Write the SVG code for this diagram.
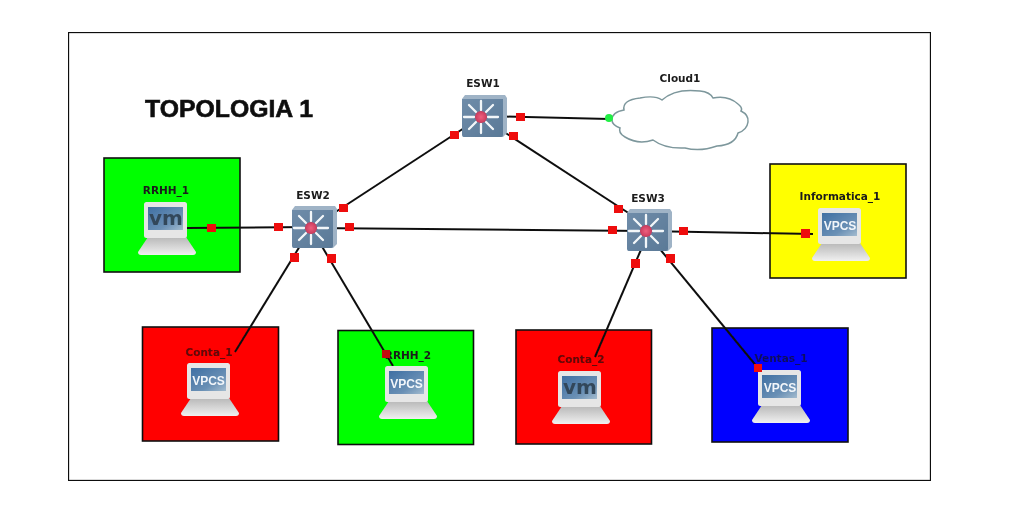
<svg xmlns="http://www.w3.org/2000/svg" xmlns:xlink="http://www.w3.org/1999/xlink" width="1021" height="527" viewBox="0 0 1021 527">
<style>
.box{stroke:#111;stroke-width:1.6}
.lbl{font-family:"DejaVu Sans",Verdana,sans-serif;font-weight:700;font-size:10.5px;fill:#1a1a1a;text-anchor:middle}
.dark{fill:#5a0808}
.lnk{stroke:#111;stroke-width:2;fill:none}
.pt{fill:#ee1111}
.scr{font-family:"Liberation Sans",Arial,sans-serif;font-weight:700;font-size:12px;fill:#f2f6fa;text-anchor:middle}
.vm{font-family:"DejaVu Sans",Verdana,sans-serif;font-weight:700;font-size:20px;fill:#33465a;text-anchor:middle}
</style>
<defs>
<filter id="soft" x="0" y="0" width="100%" height="100%"><feGaussianBlur stdDeviation="0.35"/></filter>
<linearGradient id="sw" x1="0" y1="0" x2="1" y2="1"><stop offset="0" stop-color="#6f8ca9"/><stop offset="1" stop-color="#5a7997"/></linearGradient>
<linearGradient id="scrG" x1="0" y1="0" x2="1" y2="1"><stop offset="0" stop-color="#3f6fa3"/><stop offset=".65" stop-color="#6a90b5"/><stop offset="1" stop-color="#a4bccf"/></linearGradient>
<linearGradient id="baseG" x1="0" y1="0" x2="0" y2="1"><stop offset="0" stop-color="#b8b8b8"/><stop offset="1" stop-color="#f0f0f0"/></linearGradient>
<radialGradient id="led"><stop offset="0" stop-color="#ee5f7e"/><stop offset="1" stop-color="#c93a5c"/></radialGradient>
<g id="switch">
<path d="M4 0H44L46 3V38L42 42H2L1 4Z" fill="#9fb3c6"/>
<path d="M1 4H42V40Q42 42 40 42H3Q1 42 1 40Z" fill="url(#sw)"/>
<g stroke="#f2f6f9" stroke-width="2.300" stroke-linecap="round">
<path d="M27 22H37M3 22H13M20 15V6M20 29V38M25 17L32 10M15 17L8 10M25 27L32 34M15 27L8 34"/>
</g>
<circle cx="20" cy="22" r="6" fill="url(#led)"/>
</g>
<g id="laptop">
<path d="M10 35H48L58 50Q58 53 55 53H3Q0 53 0 50Z" fill="url(#baseG)"/>
<rect x="6" y="0" width="43" height="36" rx="2.5" fill="#e6e6e6"/>
<rect x="10" y="5" width="35" height="23" fill="url(#scrG)"/>
</g>
</defs>
<rect width="1021" height="527" fill="#fff"/>
<g filter="url(#soft)">
<rect x="68.500" y="32.500" width="862" height="448" fill="#fff" stroke="#111" stroke-width="1.300"/>
<text x="229" y="117" font-family="'Liberation Sans',Arial,sans-serif" font-weight="700" font-size="23px" text-anchor="middle" fill="#111" stroke="#111" stroke-width="0.600" textLength="168" lengthAdjust="spacingAndGlyphs">TOPOLOGIA 1</text>

<g id="area-rrhh1"><rect class="box" x="104" y="158" width="136" height="114" fill="#00ff00"/></g>
<g id="area-conta1"><rect class="box" x="142.500" y="327" width="136" height="114" fill="#ff0000"/></g>
<g id="area-rrhh2"><rect class="box" x="338" y="330.500" width="135.500" height="114" fill="#00ff00"/></g>
<g id="area-conta2"><rect class="box" x="516" y="330" width="135.500" height="114" fill="#ff0000"/></g>
<g id="area-ventas"><rect class="box" x="712" y="328" width="136" height="114" fill="#0000ff"/></g>
<g id="area-info"><rect class="box" x="770" y="164" width="136" height="114" fill="#ffff00"/></g>

<g id="connectors">
<path class="lnk" d="M187 228L311 227"/>
<path class="lnk" d="M311 228L645 231"/>
<path class="lnk" d="M645 231L813 234"/>
<path class="lnk" d="M481 117L334 213"/>
<path class="lnk" d="M481 117L630 214"/>
<path class="lnk" d="M481 116L609 119"/>
<path class="lnk" d="M311 228L235 352"/>
<path class="lnk" d="M311 228L393 366"/>
<path class="lnk" d="M649 231L595 357"/>
<path class="lnk" d="M645 231L758 368"/>
</g>

<g id="Cloud1">
<path d="M612 120Q612 112 624 110Q622 100 640 98Q655 95 662 100Q675 88 700 91Q710 92 713 98Q728 95 738 104Q743 108 741 111Q749 115 748 122Q747 130 738 133Q735 145 717 146Q700 152 685 148Q665 149 653 140Q638 145 625 137Q618 133 620 128Q612 125 612 120Z" fill="#fff" stroke="#7d979c" stroke-width="1.500"/>
<text class="lbl" x="680" y="82">Cloud1</text>
</g>

<g id="ESW1"><use xlink:href="#switch" href="#switch" x="461" y="95"/><text class="lbl" x="483" y="87">ESW1</text></g>
<g id="ESW2"><use xlink:href="#switch" href="#switch" x="291" y="206"/><text class="lbl" x="313" y="199">ESW2</text></g>
<g id="ESW3"><use xlink:href="#switch" href="#switch" x="626" y="209"/><text class="lbl" x="648" y="202">ESW3</text></g>

<g id="RRHH_1"><use xlink:href="#laptop" href="#laptop" x="138" y="202"/><text class="vm" x="166" y="225">vm</text><text class="lbl" x="166" y="194">RRHH_1</text></g>
<g id="Conta_1"><use xlink:href="#laptop" href="#laptop" x="181" y="363"/><text class="scr" x="208.500" y="385">VPCS</text><text class="lbl dark" x="209" y="356">Conta_1</text></g>
<g id="RRHH_2"><use xlink:href="#laptop" href="#laptop" x="379" y="366"/><text class="scr" x="406.500" y="388">VPCS</text><text class="lbl" x="408" y="359">RRHH_2</text></g>
<g id="Conta_2"><use xlink:href="#laptop" href="#laptop" x="552" y="371"/><text class="vm" x="580" y="394">vm</text><text class="lbl dark" x="581" y="363">Conta_2</text></g>
<g id="Ventas_1"><use xlink:href="#laptop" href="#laptop" x="752" y="370"/><text class="scr" x="780" y="392">VPCS</text><text class="lbl" x="781" y="362" style="fill:#101060">Ventas_1</text></g>
<g id="Informatica_1"><use xlink:href="#laptop" href="#laptop" x="812" y="208"/><text class="scr" x="840" y="230">VPCS</text><text class="lbl" x="840" y="200">Informatica_1</text></g>

<g id="ports">
<rect class="pt" x="207" y="224" width="9" height="8"/>
<rect class="pt" x="274" y="223" width="9" height="8"/>
<rect class="pt" x="345" y="223" width="9" height="8"/>
<rect class="pt" x="339" y="204" width="9" height="8"/>
<rect class="pt" x="290" y="253" width="9" height="9"/>
<rect class="pt" x="327" y="254" width="9" height="9"/>
<rect class="pt" x="450" y="131" width="9" height="8"/>
<rect class="pt" x="509" y="132" width="9" height="8"/>
<rect class="pt" x="516" y="113" width="9" height="8"/>
<rect class="pt" x="608" y="226" width="9" height="8"/>
<rect class="pt" x="614" y="205" width="9" height="8"/>
<rect class="pt" x="679" y="227" width="9" height="8"/>
<rect class="pt" x="631" y="259" width="9" height="9"/>
<rect class="pt" x="666" y="254" width="9" height="9"/>
<rect class="pt" x="801" y="229" width="9" height="9"/>
<rect x="382" y="350" width="8" height="8" fill="#c20f0f"/>
<rect class="pt" x="754" y="364" width="8" height="8"/>
<circle cx="609" cy="118" r="4" fill="#22ee44"/>
</g>
</g>
</svg>
